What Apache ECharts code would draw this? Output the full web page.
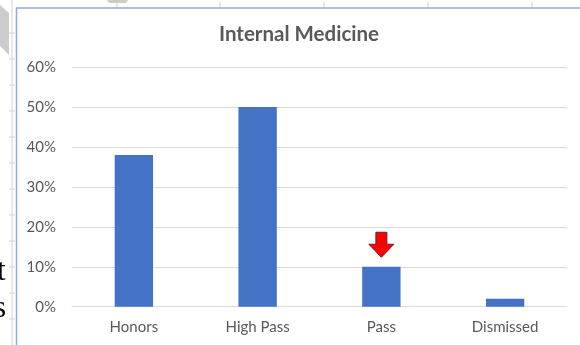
<!DOCTYPE html>
<html>
<head>
<meta charset="utf-8">
<script src="https://cdn.jsdelivr.net/npm/echarts@6/dist/echarts.min.js"></script>
<style>
html,body{margin:0;padding:0;background:#fff;}
#c{width:580px;height:345px;}
</style>
</head>
<body>
<div id="c"></div>
<script>
// Data
var categories = ['Honors', 'High Pass', 'Pass', 'Dismissed'];
var values = [0.38, 0.50, 0.10, 0.02];
var yTicks = [0, 0.1, 0.2, 0.3, 0.4, 0.5, 0.6];
var titleText = 'Internal Medicine';
var highlightCategory = 'Pass';

var chart = echarts.init(document.getElementById('c'), null, {renderer: 'canvas'});

var arrowPath = 'path://M7,0 L18,0 L18,12 L25,12 L12.5,25 L0,12 L7,12 Z';
var hi = categories.indexOf(highlightCategory);

// side artifacts (ruler ticks)
var gfx = [];
gfx.push({type: 'line', shape: {x1: 12, y1: 0, x2: 12, y2: 345}, style: {stroke: '#d4d4d4', lineWidth: 1}, silent: true});
for (var ty = 33; ty < 345; ty += 26) {
  gfx.push({type: 'line', shape: {x1: 9, y1: ty, x2: 15, y2: ty}, style: {stroke: '#d4d4d4', lineWidth: 1}, silent: true});
}
[117, 220, 324, 428, 532].forEach(function (tx) {
  gfx.push({type: 'line', shape: {x1: tx, y1: 2, x2: tx, y2: 7}, style: {stroke: '#cfcfcf', lineWidth: 1}, silent: true});
});
gfx.push({type: 'polygon', shape: {points: [[0, 5], [9, 13], [9, 55], [0, 46]]}, style: {fill: '#cccccc'}, silent: true});
gfx.push({type: 'polygon', shape: {points: [[107, 0], [128, 0], [126, 3], [109, 3]]}, style: {fill: '#cccccc'}, silent: true});
// chart frame
gfx.push({type: 'polyline', shape: {points: [[16.5, 345], [16.5, 8], [580, 8]]}, style: {stroke: '#8faadc', lineWidth: 1.5, fill: null}, silent: true});
// partial document text on left
gfx.push({type: 'text', left: -3, top: 256, style: {text: 't', font: '31px "Liberation Serif"', fill: '#000'}, silent: true});
gfx.push({type: 'text', left: -6, top: 293, style: {text: 's', font: '31px "Liberation Serif"', fill: '#000'}, silent: true});
// title
gfx.push({type: 'text', x: 299, y: 34, style: {text: titleText, font: 'bold 20.5px Lato', fill: '#595959', textAlign: 'center', textVerticalAlign: 'middle'}, silent: true});

var option = {
  backgroundColor: '#ffffff',
  animation: false,
  grid: {left: 72, right: 13, top: 67, bottom: 38.3, containLabel: false},
  xAxis: {
    type: 'category',
    data: categories,
    axisLine: {show: true, lineStyle: {color: '#d9d9d9', width: 1}},
    axisTick: {show: false},
    axisLabel: {color: '#595959', fontFamily: 'Lato', fontSize: 15, margin: 13}
  },
  yAxis: {
    type: 'value',
    min: yTicks[0],
    max: yTicks[yTicks.length - 1],
    interval: 0.1,
    axisLine: {show: false},
    axisTick: {show: false},
    splitLine: {lineStyle: {color: '#d9d9d9', width: 1}},
    axisLabel: {
      color: '#595959', fontFamily: 'Lato', fontSize: 15, margin: 16,
      formatter: function (v) { return Math.round(v * 100) + '%'; }
    }
  },
  series: [{
    type: 'bar',
    data: values,
    barWidth: '31%',
    itemStyle: {color: '#4472c4'},
    silent: true,
    markPoint: {
      silent: true,
      symbol: arrowPath,
      symbolSize: [25, 25],
      symbolOffset: [0, -22],
      itemStyle: {color: '#ff0000', borderColor: '#6b1f2a', borderWidth: 1},
      label: {show: false},
      data: [{coord: [hi, values[hi]]}]
    }
  }],
  graphic: gfx
};
chart.setOption(option);
</script>
</body>
</html>
